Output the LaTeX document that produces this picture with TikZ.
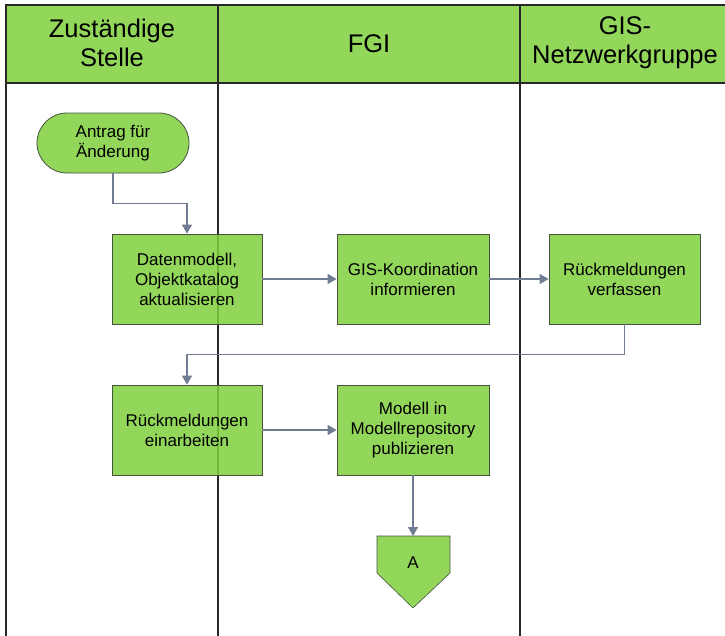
\documentclass[tikz,border=0pt]{standalone}
\usepackage{fontspec}
\setmainfont{Liberation Sans}
\usetikzlibrary{arrows.meta}
\definecolor{lanegreen}{RGB}{146,214,90}
% base tone that gives lanegreen once laid over white at 85% opacity
\definecolor{stepgreen}{RGB}{127,207,61}
\definecolor{boxedge}{RGB}{70,82,64}
\definecolor{laneline}{RGB}{40,40,40}
\definecolor{flowgray}{RGB}{112,124,146}
\tikzset{
  headcell/.style={draw=laneline, line width=1.4pt, fill=lanegreen},
  headtext/.style={align=center, font=\fontsize{25.5}{29}\selectfont, inner sep=0pt},
  lanesep/.style={draw=laneline, line width=1.6pt},
  process/.style={draw=boxedge, line width=0.8pt, fill=stepgreen, fill opacity=0.85,
    text opacity=1, minimum width=150pt, minimum height=90pt, inner sep=0pt,
    align=center, font=\fontsize{17}{20}\selectfont},
  terminal/.style={process, minimum width=152pt, minimum height=60pt, rounded corners=30pt},
  flow/.style={draw=flowgray, line width=1.3pt, -{Triangle[length=9pt,width=10pt]}},
}
\begin{document}
\begin{tikzpicture}[x=1pt, y=-1pt]
\useasboundingbox (0,0) rectangle (725,635);
\begin{scope}
\clip (0,0) rectangle (725,635);
% lane headers
\draw[headcell] (6,5) rectangle (218,83);
\draw[headcell] (218,5) rectangle (520,83);
\draw[headcell] (520,5) rectangle (740,83);
% lane separators
\draw[lanesep] (6,83) -- (6,650);
\draw[lanesep] (218,83) -- (218,650);
\draw[lanesep] (520,83) -- (520,650);
\end{scope}
\node[headtext] (h1) at (112,43) {Zuständige\\Stelle};
\node[headtext] (h2) at (369,44) {FGI};
\node[headtext] (h3) at (625,43) {GIS-\\Netzwerkgruppe};

% process steps
\node[terminal] (start) at (113,143) {Antrag für\\Änderung};
\node[process] (dm) at (187,279) {Datenmodell,\\Objektkatalog\\aktualisieren};
\node[process, minimum width=152pt] (gk) at (413,279) {GIS-Koordination\\informieren};
\node[process, minimum width=151pt] (rv) at (624.5,279) {Rückmeldungen\\verfassen};
\node[process] (re) at (187,430) {Rückmeldungen\\einarbeiten};
\node[process, minimum width=152pt] (mp) at (413,430) {Modell in\\Modellrepository\\publizieren};

% off-page connector
\coordinate (ctop) at (413,536);
\draw[draw=boxedge, line width=0.6pt, fill=lanegreen] (377,536) -- (450,536) -- (450,573) -- (413,608) -- (377,573) -- cycle;
\node[font=\fontsize{17}{20}\selectfont, inner sep=0pt] (offA) at (413,563) {A};

% connectors
\draw[flow] (start.south) -- ++(0,30) -| (dm.north);
\draw[flow] (dm.east) -- (gk.west);
\draw[flow] (gk.east) -- (rv.west);
\draw[flow] (rv.south) -- ++(0,30) -| (re.north);
\draw[flow] (re.east) -- (mp.west);
\draw[flow] (mp.south) -- (ctop);
\end{tikzpicture}
\end{document}
